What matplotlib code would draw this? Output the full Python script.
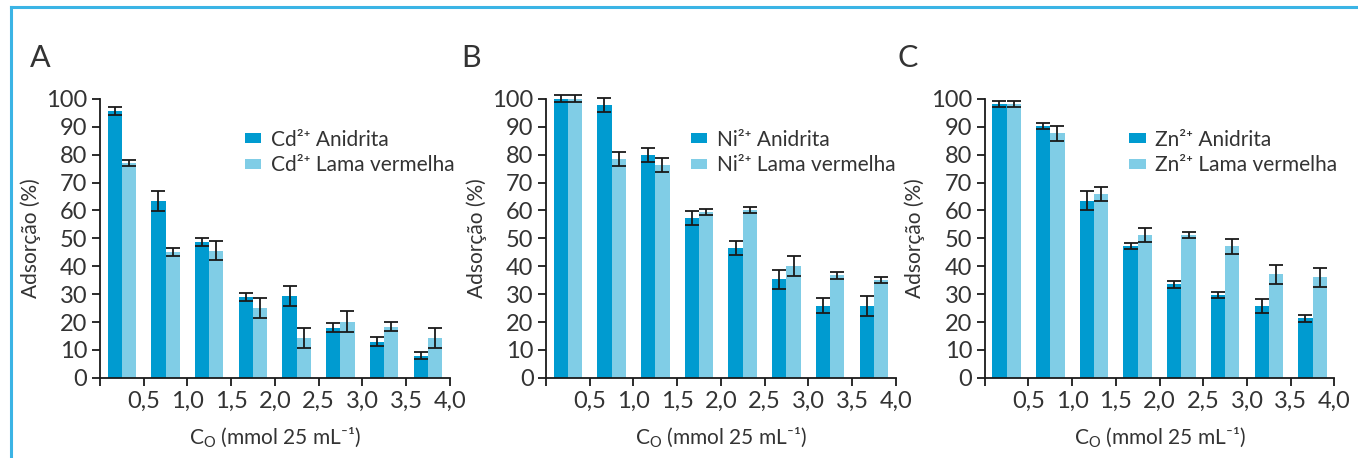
import numpy as np
import matplotlib.pyplot as plt
from matplotlib.ticker import FixedLocator

# Concentration groups (bar centres on the C0 axis)
conc = [0.25, 0.75, 1.25, 1.75, 2.25, 2.75, 3.25, 3.75]
xticks = [0.5, 1.0, 1.5, 2.0, 2.5, 3.0, 3.5, 4.0]
xticklabels = ['0,5', '1,0', '1,5', '2,0', '2,5', '3,0', '3,5', '4,0']
yticks = [0, 10, 20, 30, 40, 50, 60, 70, 80, 90, 100]

# Panel A - Cd2+
cd_anid = [95.7, 63.4, 48.6, 29.0, 29.4, 17.9, 13.0, 8.0]
cd_anid_err = [1.4, 3.6, 1.5, 1.5, 3.5, 1.6, 1.5, 1.4]
cd_lama = [76.9, 45.2, 45.5, 25.1, 14.2, 20.2, 18.4, 14.2]
cd_lama_err = [1.1, 1.5, 3.4, 3.7, 3.5, 3.6, 1.5, 3.6]

# Panel B - Ni2+
ni_anid = [100.2, 97.8, 79.9, 57.2, 46.6, 35.3, 25.8, 25.7]
ni_anid_err = [1.2, 2.6, 2.6, 2.5, 2.6, 3.5, 2.7, 3.6]
ni_lama = [100.2, 78.4, 76.3, 59.5, 60.1, 40.1, 36.7, 35.2]
ni_lama_err = [1.2, 2.4, 2.6, 1.2, 1.1, 3.6, 1.2, 1.1]

# Panel C - Zn2+
zn_anid = [98.2, 90.3, 63.5, 47.3, 33.5, 29.6, 25.7, 21.3]
zn_anid_err = [1.2, 1.2, 3.4, 1.1, 1.2, 1.1, 2.6, 1.1]
zn_lama = [98.2, 87.7, 66.0, 51.2, 51.2, 47.1, 37.1, 36.0]
zn_lama_err = [1.2, 2.7, 2.6, 2.6, 1.2, 2.6, 3.5, 3.5]

dark = '#009bd0'
light = '#80cde6'
txt = '#333333'

plt.rcParams['font.family'] = ['Lato', 'DejaVu Sans']
plt.rcParams['mathtext.default'] = 'regular'

fig = plt.figure(figsize=(13.58, 4.58), dpi=100)

# light blue frame around the figure
fig.add_artist(plt.Line2D([0.0081, 0.0081], [0, 0.984], transform=fig.transFigure,
                          color='#3bb4e5', lw=2.2))
fig.add_artist(plt.Line2D([0.0081, 1.0], [0.984, 0.984], transform=fig.transFigure,
                          color='#3bb4e5', lw=2.2))

panels = [
    ('A', 'Cd', cd_anid, cd_anid_err, cd_lama, cd_lama_err, 0.0736, 0.030),
    ('B', 'Ni', ni_anid, ni_anid_err, ni_lama, ni_lama_err, 0.4021, 0.348),
    ('C', 'Zn', zn_anid, zn_anid_err, zn_lama, zn_lama_err, 0.7251, 0.669),
]

w = 0.163
x = np.array(conc)
for letter, ion, an, an_e, la, la_e, left, lx in panels:
    ax = fig.add_axes([left, 0.175, 0.2575, 0.609])
    ax.bar(x - w / 2, an, w, color=dark, label=ion + '²⁺ Anidrita', zorder=2)
    ax.bar(x + w / 2, la, w, color=light, label=ion + '²⁺ Lama vermelha', zorder=2)
    for xs, ys, es in [(x - w / 2, an, an_e), (x + w / 2, la, la_e)]:
        eb = ax.errorbar(xs, ys, yerr=es, fmt='none', ecolor='#1a1a1a',
                         elinewidth=1.3, capsize=4.8, capthick=1.3, zorder=3)
        for art in eb.lines[1] + eb.lines[2]:
            art.set_clip_on(False)
    ax.set_xlim(0, 4.0)
    ax.set_ylim(0, 100)
    ax.xaxis.set_major_locator(FixedLocator([0] + xticks))
    ax.set_xticklabels([''] + xticklabels)
    ax.set_yticks(yticks)
    ax.set_yticklabels([str(v) for v in yticks])
    for s in ['top', 'right']:
        ax.spines[s].set_visible(False)
    for s in ['left', 'bottom']:
        ax.spines[s].set_linewidth(1.3)
        ax.spines[s].set_color('#1a1a1a')
    ax.tick_params(direction='out', length=6, width=1.3, color='#1a1a1a',
                   labelsize=17, labelcolor=txt, pad=3)
    ax.set_ylabel('Adsorção (%)', fontsize=15, color=txt, labelpad=4)
    ax.set_xlabel('C$_{O}$ (mmol 25 mL⁻¹)', fontsize=15, color=txt, labelpad=10)
    leg = ax.legend(loc='upper left', bbox_to_anchor=(0.39, 0.92), frameon=False,
                    fontsize=15, handlelength=0.8, handleheight=0.4,
                    handletextpad=0.45, labelspacing=0.28, borderaxespad=0)
    for t in leg.get_texts():
        t.set_color(txt)
    fig.text(lx - 0.008, 0.873, letter, fontsize=22, color=txt, ha='left', va='center')

fig.savefig('out.png', dpi=100)
